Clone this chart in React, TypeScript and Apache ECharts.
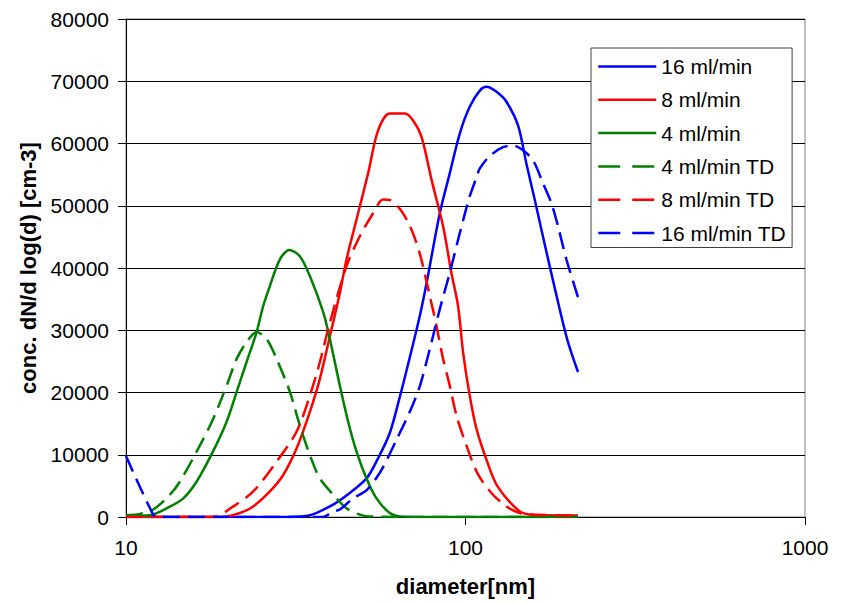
import React, { useEffect, useRef } from "react";
import * as echarts from "echarts";

const FONT = "Arial, 'Liberation Sans', Helvetica, sans-serif";

// 16 ml/min
const x16 = [10, 20, 30, 34.8, 40.76, 45, 51.1, 55, 59.84, 64.05, 67.02, 73.34, 76.76, 84, 89.86, 96.19, 102.9, 110.2, 115.3, 123.4, 132, 142.8, 151.1, 159.9, 167.3, 177, 189.4, 200.4, 214.5];
const y16 = [0, 0, 0, 270, 2000, 3600, 6200, 9200, 13500, 19300, 23500, 32300, 37500, 48800, 55200, 61600, 65900, 68500, 69100, 68300, 66700, 62900, 56800, 51000, 46200, 40300, 33400, 28100, 23300];

// 8 ml/min
const x8 = [10, 15, 19.13, 21.66, 23.7, 26.53, 29.04, 31.79, 34.8, 37.24, 39.85, 42.65, 44.63, 47.75, 51.66, 55.28, 59.84, 66.26, 70.09, 74.19, 79.41, 85.9, 90.9, 95.08, 98.36, 102.9, 107.7, 115.3, 124, 144.4, 158.1, 214.5];
const y8 = [0, 0, 0, 640, 1700, 4100, 6750, 11000, 16900, 22200, 29000, 36000, 41400, 47800, 55200, 62100, 64800, 64800, 63700, 61100, 54200, 46700, 39200, 33900, 26500, 19500, 14200, 9200, 5000, 900, 370, 250];

// 4 ml/min
const x4 = [10, 11.77, 13.18, 14.75, 16.15, 18.03, 19.79, 21.18, 22.66, 24.25, 25.36, 26.53, 28.4, 30.25, 32.51, 34.8, 38.09, 39.85, 42.65, 45.12, 47.75, 51.1, 54.68, 59.84, 64.05, 80, 120, 160, 214.5];
const y4 = [200, 300, 1400, 3000, 5700, 10500, 15300, 20100, 24900, 29700, 33900, 37100, 41400, 42900, 41900, 38700, 32900, 28600, 21100, 15300, 10500, 6200, 3000, 640, 100, 0, 0, 0, 0];

// 4 ml/min TD
const x4td = [10, 11, 12.03, 13.48, 14.42, 16.51, 18.07, 19.79, 21.18, 22.66, 24.25, 25.95, 27.77, 30.39, 32.51, 34.8, 37.24, 40.76, 44.63, 48.84, 52, 80, 120, 160, 214.5];
const y4td = [300, 500, 1200, 3600, 5700, 11500, 15800, 21100, 25400, 28100, 29700, 28600, 25400, 20100, 14700, 9950, 6200, 3600, 1400, 370, 100, 0, 0, 0, 0];

// 8 ml/min TD
const x8td = [10, 15, 18.07, 20.7, 23.7, 27.77, 31.79, 34.8, 37.24, 39.85, 44.63, 48.84, 53.44, 57.18, 60, 64.05, 68.54, 73.34, 78.5, 82.14, 85.9, 89.86, 94.06, 100.6, 108.5, 119, 132, 144.4, 158.1, 214.5];
const y8td = [0, 0, 0, 1700, 4100, 8900, 13700, 19500, 24900, 31200, 40300, 45100, 48800, 51000, 50900, 49500, 46800, 42300, 35500, 30700, 25400, 21100, 16300, 11500, 7000, 3900, 1700, 640, 370, 250];

// 16 ml/min TD
const x16td = [10, 11.77, 12.31, 20, 30, 38, 40.76, 42.65, 46.67, 51.1, 54.68, 57.18, 62.63, 68.54, 73.34, 78.5, 84, 89.86, 96.19, 102.9, 107.7, 110.2, 117.9, 129, 138, 147.7, 158.1, 169.2, 179.1, 187.3, 198.2, 214.5];
const y16td = [9800, 1400, 0, 0, 0, 0, 900, 1200, 3000, 4300, 6300, 8000, 12400, 16900, 21000, 27000, 33400, 39200, 45600, 51500, 54500, 56000, 58000, 59400, 59700, 58900, 57300, 53600, 50400, 46700, 41400, 35300];

const seriesDefs = [
  { name: "16 ml/min", xs: x16, ys: y16, color: "#0000FF", dashed: false },
  { name: "8 ml/min", xs: x8, ys: y8, color: "#FF0000", dashed: false },
  { name: "4 ml/min", xs: x4, ys: y4, color: "#008000", dashed: false },
  { name: "4 ml/min TD", xs: x4td, ys: y4td, color: "#008000", dashed: true },
  { name: "8 ml/min TD", xs: x8td, ys: y8td, color: "#FF0000", dashed: true },
  { name: "16 ml/min TD", xs: x16td, ys: y16td, color: "#0000FF", dashed: true },
];

const X_TICKS = [10, 100, 1000];

export default function App() {
  const ref = useRef<HTMLDivElement>(null);
  useEffect(() => {
    document.body.style.margin = "0";
    if (!ref.current) return;
    const chart = echarts.init(ref.current, undefined, { renderer: "svg" });
    const option: any = {
      animation: false,
      backgroundColor: "#ffffff",
      textStyle: { fontFamily: FONT },
      grid: {
        left: 126,
        right: 41,
        top: 19,
        bottom: 83,
        show: true,
        borderColor: "#808080",
        borderWidth: 1,
        containLabel: false,
      },
      legend: {
        orient: "vertical",
        left: 591,
        top: 48,
        padding: [8, 6, 4, 6],
        itemGap: 12.3,
        itemWidth: 58,
        itemHeight: 14,
        backgroundColor: "#ffffff",
        borderColor: "#404040",
        borderWidth: 1,
        borderRadius: 0,
        textStyle: { fontFamily: FONT, fontSize: 21, color: "#000" },
        data: seriesDefs.map((s) => ({
          name: s.name,
          itemStyle: { opacity: 0 },
          lineStyle: { type: s.dashed ? [22, 12] : "solid", width: 2.5, color: s.color },
        })),
      },
      xAxis: {
        type: "log",
        logBase: 10,
        min: 10,
        max: 1000,
        name: "diameter[nm]",
        nameLocation: "middle",
        nameGap: 58,
        nameTextStyle: { fontFamily: FONT, fontSize: 22, fontWeight: "bold", color: "#000" },
        axisLine: { show: true, lineStyle: { color: "#000", width: 1 } },
        axisTick: { show: true, inside: false, length: 8, lineStyle: { color: "#000" } },
        minorTick: { show: false },
        splitLine: { show: false },
        axisLabel: {
          fontFamily: FONT,
          fontSize: 21,
          color: "#000",
          margin: 20,
          formatter: (v: number) => (X_TICKS.includes(Math.round(v)) ? String(Math.round(v)) : ""),
        },
      },
      yAxis: {
        type: "value",
        min: 0,
        max: 80000,
        interval: 10000,
        name: "conc. dN/d log(d) [cm-3]",
        nameLocation: "middle",
        nameGap: 69,
        nameTextStyle: { fontFamily: FONT, fontSize: 22, fontWeight: "bold", color: "#000" },
        axisLine: { show: true, lineStyle: { color: "#000", width: 1 } },
        axisTick: { show: true, inside: false, length: 8, lineStyle: { color: "#000" } },
        splitLine: { show: true, lineStyle: { color: "#000", width: 1 } },
        axisLabel: {
          fontFamily: FONT,
          fontSize: 21,
          color: "#000",
          margin: 17,
          formatter: (v: number) => String(v),
        },
      },
      series: seriesDefs.map((s) => ({
        name: s.name,
        type: "line",
        symbol: "none",
        showSymbol: false,
        smooth: 0.3,
        data: s.xs.map((x, i) => [x, s.ys[i]]),
        lineStyle: { color: s.color, width: 2.5, type: s.dashed ? [17, 8] : "solid" },
        itemStyle: { color: s.color },
      })),
    };
    chart.setOption(option);
    return () => chart.dispose();
  }, []);
  return <div ref={ref} style={{ width: 846, height: 602 }} />;
}
